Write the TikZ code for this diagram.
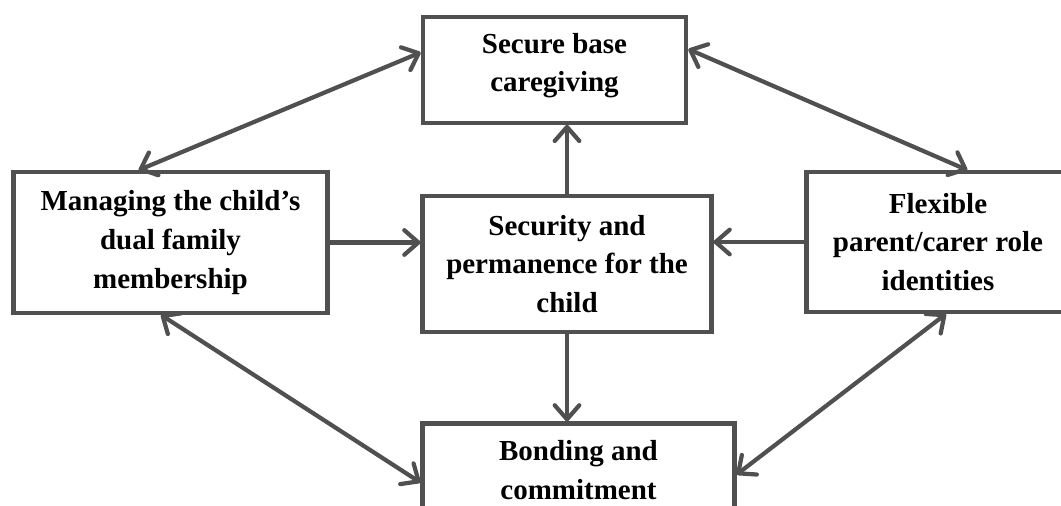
\documentclass[tikz,border=0pt]{standalone}
\usepackage{fontspec}
\setmainfont{Liberation Serif}
\usepackage{xcolor}
\usepackage{tikz}
\usetikzlibrary{arrows.meta,positioning,calc}
\definecolor{edge}{HTML}{505050}

\begin{document}
\begin{tikzpicture}[
  x=0.02cm, y=-0.02cm,
  themebox/.style={rectangle, draw=edge, line width=2.4pt, fill=white, align=center, inner sep=0pt, font=\fontsize{16.5}{22}\selectfont\bfseries},
  link/.style={edge, line width=2.4pt, line cap=round, -{Straight Barb[length=8pt, width=14pt, line cap=round, line join=round]}},
  twoway/.style={link, {Straight Barb[length=8pt, width=14pt, line cap=round, line join=round]}-{Straight Barb[length=8pt, width=14pt, line cap=round, line join=round]}}
]
\clip (0,0) rectangle (1061,506);
\fill[white] (0,0) rectangle (1061,506);

\node[themebox, minimum width=150pt, minimum height=60pt] (t) at (554.5,70) {Secure base\\caregiving\\[-13.5pt]};
\node[themebox, minimum width=178.6pt, minimum height=80pt] (l) at (170.5,242.5) {Managing the child's\\dual family\\membership};
\node[themebox, minimum width=164.4pt, minimum height=77pt] (c) at (567,264) {Security and\\permanence for the\\child};
\node[themebox, minimum width=149.7pt, minimum height=79.4pt] (r) at (938,242) {Flexible\\parent/carer role\\identities};
\node[themebox, minimum width=177.5pt, minimum height=62pt] (b) at (578.5,478) {Bonding and\\commitment\\[-13pt]};

\draw[link] (c.north) -- (c.north |- t.south);
\draw[link] (c.south) -- (c.south |- b.north);
\draw[link] (l.east) -- (l.east -| c.west);
\draw[link] (r.west) -- (r.west -| c.east);

\draw[twoway] ($(l.north west)!0.4!(l.north east)$) -- ($(t.north west)!0.34!(t.south west)$);
\draw[twoway] ($(r.north west)!0.61!(r.north east)$) -- ($(t.north east)!0.31!(t.south east)$);
\draw[twoway] ($(l.south west)!0.47!(l.south east)$) -- ($(b.north west)!0.54!(b.south west)$);
\draw[twoway] ($(r.south west)!0.53!(r.south east)$) -- ($(b.north east)!0.47!(b.south east)$);
\end{tikzpicture}
\end{document}
